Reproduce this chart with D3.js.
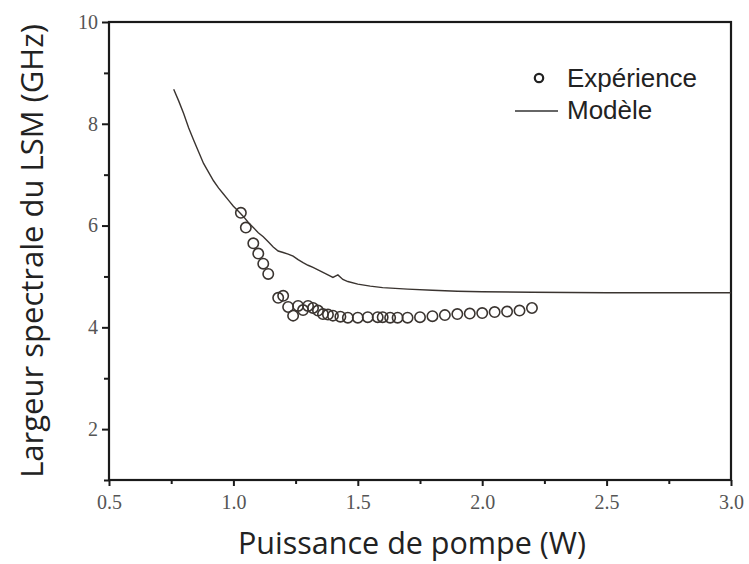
<!DOCTYPE html>
<html>
<head>
<meta charset="utf-8">
<script src="https://cdn.jsdelivr.net/npm/d3@7"></script>
<style>
  html, body { margin: 0; padding: 0; background: #fff; }
  svg { display: block; }
</style>
</head>
<body>
<svg id="chart" width="749" height="564"></svg>
<script>
// Measured linewidth of the LSM versus pump power
const expPower = [1.03, 1.05, 1.08, 1.10, 1.12, 1.14, 1.18, 1.20, 1.22, 1.24, 1.26, 1.28,
  1.30, 1.32, 1.34, 1.36, 1.38, 1.40, 1.43, 1.46, 1.50, 1.54, 1.58, 1.60, 1.63, 1.66,
  1.70, 1.75, 1.80, 1.85, 1.90, 1.95, 2.00, 2.05, 2.10, 2.15, 2.20];
const expWidth = [6.25, 5.96, 5.65, 5.45, 5.25, 5.05, 4.58, 4.62, 4.40, 4.23, 4.42, 4.34,
  4.42, 4.38, 4.33, 4.26, 4.25, 4.23, 4.21, 4.19, 4.19, 4.20, 4.20, 4.20, 4.19, 4.19,
  4.19, 4.20, 4.22, 4.24, 4.26, 4.27, 4.28, 4.30, 4.31, 4.33, 4.38];

// Model curve
const modelPower = [0.76, 0.78, 0.80, 0.82, 0.84, 0.86, 0.88, 0.90, 0.92, 0.94, 0.96, 0.98,
  1.00, 1.02, 1.04, 1.06, 1.08, 1.10, 1.12, 1.14, 1.16, 1.18, 1.20, 1.22, 1.24, 1.26,
  1.28, 1.30, 1.32, 1.34, 1.36, 1.38, 1.40, 1.42, 1.44, 1.46, 1.50, 1.55, 1.60, 1.70,
  1.80, 1.90, 2.00, 2.20, 2.50, 3.00];
const modelWidth = [8.68, 8.45, 8.20, 7.92, 7.68, 7.45, 7.22, 7.05, 6.88, 6.74, 6.62, 6.50,
  6.38, 6.28, 6.18, 6.06, 5.96, 5.86, 5.78, 5.68, 5.58, 5.50, 5.47, 5.44, 5.40, 5.33,
  5.27, 5.22, 5.18, 5.13, 5.08, 5.03, 4.98, 5.03, 4.94, 4.90, 4.85, 4.81, 4.78, 4.75,
  4.73, 4.71, 4.70, 4.69, 4.68, 4.68];

const xMajor = [0.5, 1.0, 1.5, 2.0, 2.5, 3.0];
const xMinor = [0.75, 1.25, 1.75, 2.25, 2.75];
const yMajor = [2, 4, 6, 8, 10];
const yMinor = [1, 3, 5, 7, 9];

const legendLabels = ["Expérience", "Modèle"];
const xTitle = "Puissance de pompe (W)";
const yTitle = "Largeur spectrale du LSM (GHz)";

const svg = d3.select("#chart");
const L = 109, R = 731, T = 22, B = 480;

const x = d3.scaleLinear().domain([0.5, 3.0]).range([L, R]);
const y = d3.scaleLinear().domain([1, 10]).range([B, T]);

const ink = "#1a1a1a";
const tickFont = "'Liberation Serif', 'Times New Roman', serif";
const titleFont = "'Open Sans', 'Noto Sans', sans-serif";

// x axis: major + minor ticks
const xAxis = d3.axisBottom(x).tickValues(xMajor).tickFormat(d3.format(".1f")).tickSize(6).tickPadding(9);
const gx = svg.append("g").attr("transform", `translate(0,${B})`).call(xAxis);
gx.append("g").call(d3.axisBottom(x).tickValues(xMinor).tickFormat("").tickSize(4));

const yAxis = d3.axisLeft(y).tickValues(yMajor).tickFormat(d3.format("d")).tickSize(7).tickPadding(4);
const gy = svg.append("g").attr("transform", `translate(${L},0)`).call(yAxis);
gy.append("g").call(d3.axisLeft(y).tickValues(yMinor).tickFormat("").tickSize(5));

[gx, gy].forEach(g => {
  g.selectAll(".domain").remove();
  g.selectAll("line").attr("stroke", ink).attr("stroke-width", 2);
  g.selectAll("text").attr("font-family", tickFont).attr("font-size", 20).attr("fill", "#555");
});

// frame
svg.append("rect")
  .attr("x", L).attr("y", T).attr("width", R - L).attr("height", B - T)
  .attr("fill", "none").attr("stroke", ink).attr("stroke-width", 2.2);

// model line
const modelData = modelPower.map((p, i) => [p, modelWidth[i]]);
svg.append("path")
  .datum(modelData)
  .attr("fill", "none")
  .attr("stroke", "#3a3430")
  .attr("stroke-width", 1.4)
  .attr("d", d3.line().x(d => x(d[0])).y(d => y(d[1])));

// experimental points
const expData = expPower.map((p, i) => [p, expWidth[i]]);
svg.append("g").selectAll("circle")
  .data(expData)
  .join("circle")
  .attr("cx", d => x(d[0]))
  .attr("cy", d => y(d[1]))
  .attr("r", 5.2)
  .attr("fill", "none")
  .attr("stroke", "#3a3430")
  .attr("stroke-width", 1.6);

// legend
const leg = svg.append("g").attr("font-family", "'Liberation Sans', Arial, sans-serif").attr("font-size", 26).attr("fill", "#222");
leg.append("circle").attr("cx", 539).attr("cy", 78).attr("r", 4.2)
  .attr("fill", "none").attr("stroke", "#222").attr("stroke-width", 2.2);
leg.append("text").attr("x", 567).attr("y", 87).text(legendLabels[0]);
leg.append("line").attr("x1", 515).attr("x2", 558).attr("y1", 111).attr("y2", 111)
  .attr("stroke", "#333").attr("stroke-width", 1.6);
leg.append("text").attr("x", 567).attr("y", 119).text(legendLabels[1]);

// axis titles
svg.append("text")
  .attr("x", 412).attr("y", 554)
  .attr("text-anchor", "middle")
  .attr("font-family", titleFont).attr("font-size", 30.5).attr("fill", "#222")
  .text(xTitle);

svg.append("text")
  .attr("transform", `translate(43,${(T + B) / 2}) rotate(-90)`)
  .attr("text-anchor", "middle")
  .attr("font-family", titleFont).attr("font-size", 31).attr("fill", "#222")
  .text(yTitle);
</script>
</body>
</html>
